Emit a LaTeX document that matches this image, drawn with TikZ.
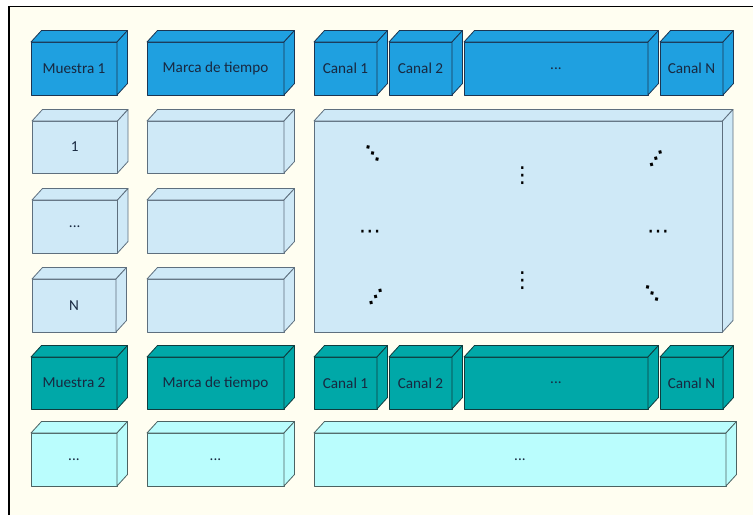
\documentclass[tikz,border=0pt]{standalone}
\usepackage{fontspec}
\setmainfont{Carlito}
\newfontfamily\dotfont{DejaVu Sans}
\definecolor{cream}{HTML}{FFFEF1}
\definecolor{hdrblue}{HTML}{1FA0E0}
\definecolor{hdrblueline}{HTML}{1C3552}
\definecolor{paleblue}{HTML}{CFE9F7}
\definecolor{palebluel}{HTML}{5E6F7E}
\definecolor{hdrteal}{HTML}{00A8A8}
\definecolor{hdrteall}{HTML}{0F3C3E}
\definecolor{palecyan}{HTML}{BAFDFD}
\definecolor{palecyanl}{HTML}{4C6262}
\definecolor{labeltext}{HTML}{182840}
\tikzset{
  cubebase/.style={inner sep=0pt, outer sep=0pt, line width=0.8pt, line join=round,
    font=\fontsize{15.2}{17}\selectfont, text=labeltext},
  headblue/.style={cubebase, draw=hdrblueline, fill=hdrblue},
  cellblue/.style={cubebase, draw=palebluel, fill=paleblue},
  headteal/.style={cubebase, draw=hdrteall, fill=hdrteal},
  cellcyan/.style={cubebase, draw=palecyanl, fill=palecyan},
  dotsym/.style={inner sep=0pt, outer sep=0pt, text=black,
    font=\dotfont\fontsize{22}{22}\selectfont},
  diagsym/.style={inner sep=0pt, outer sep=0pt, text=black,
    font=\dotfont\bfseries\fontsize{17}{17}\selectfont},
}
\def\dpx{10.5pt}
\def\dpy{11.5pt}
% 3-D block: name, left, top, right, bottom (front face), style, label
\newcommand\blockthree[7]{%
  \node[#6, minimum width={(#4-#2)*1pt}, minimum height={(#5-#3)*1pt}]
    (#1) at ({(#2+#4)/2},{(#3+#5)/2}) {#7};
  \path[#6] (#1.north west) -- ++(\dpx,\dpy)
    -- ([shift={(\dpx,\dpy)}]#1.north east) -- (#1.north east) -- cycle;
  \path[#6] (#1.north east) -- ++(\dpx,\dpy)
    -- ([shift={(\dpx,\dpy)}]#1.south east) -- (#1.south east) -- cycle;
}
\begin{document}
\begin{tikzpicture}[x=1pt, y=-1pt]
\useasboundingbox (0,0) rectangle (753,515);
\fill[white] (0,0) rectangle (753,515);
\fill[cream] (9,6.5) rectangle (753,515);
\draw[line width=1.6pt] (9,515) -- (9,6.5) -- (753,6.5);

% first sample: header row
\blockthree{m1}{31}{42}{117}{95}{headblue}{Muestra 1}
\blockthree{t1}{147}{42}{284}{95}{headblue}{Marca de tiempo}
\blockthree{c11}{314}{42}{377}{95}{headblue}{Canal 1}
\blockthree{c12}{389}{42}{452}{95}{headblue}{Canal 2}
\blockthree{c1d}{464}{42}{648}{95}{headblue}{...}
\blockthree{c1n}{660}{42}{723}{95}{headblue}{Canal N}

% first sample: rows 1..N
\blockthree{r1}{32}{121}{117.5}{173}{cellblue}{1}
\blockthree{r1t}{147}{121}{284}{173}{cellblue}{}
\blockthree{rd}{32}{200}{117.5}{253}{cellblue}{...}
\blockthree{rdt}{147}{200}{284}{253}{cellblue}{}
\blockthree{rn}{32}{279}{116}{332}{cellblue}{N}
\blockthree{rnt}{147}{279}{284}{332}{cellblue}{}

% data matrix with its ellipsis marks
\blockthree{mat}{314}{121}{722.5}{332}{cellblue}{}
\node[diagsym, rotate=-12] (d1) at (372.7,153) {⋱};
\node[dotsym] (d2) at (522.3,175.7) {⋮};
\node[diagsym, rotate=14] (d3) at (656,158.5) {⋰};
\node[dotsym] (d4) at (369.8,234) {⋯};
\node[dotsym] (d5) at (658,234) {⋯};
\node[diagsym, rotate=12] (d6) at (375.6,297) {⋰};
\node[dotsym] (d7) at (522.3,280.5) {⋮};
\node[diagsym, rotate=-12] (d8) at (652.2,293) {⋱};

% second sample: header row
\blockthree{m2}{31}{357}{117}{409}{headteal}{Muestra 2}
\blockthree{t2}{147}{357}{284}{409}{headteal}{Marca de tiempo}
\blockthree{c21}{314}{357}{377}{409}{headteal}{Canal 1}
\blockthree{c22}{389}{357}{452}{409}{headteal}{Canal 2}
\blockthree{c2d}{464}{357}{648}{409}{headteal}{...}
\blockthree{c2n}{660}{357}{723}{409}{headteal}{Canal N}

% second sample: continuation row
\blockthree{s1}{31}{433}{117}{486}{cellcyan}{...}
\blockthree{s1t}{147}{433}{284}{486}{cellcyan}{...}
\blockthree{s1d}{314}{433}{726}{486}{cellcyan}{...}
\end{tikzpicture}
\end{document}
